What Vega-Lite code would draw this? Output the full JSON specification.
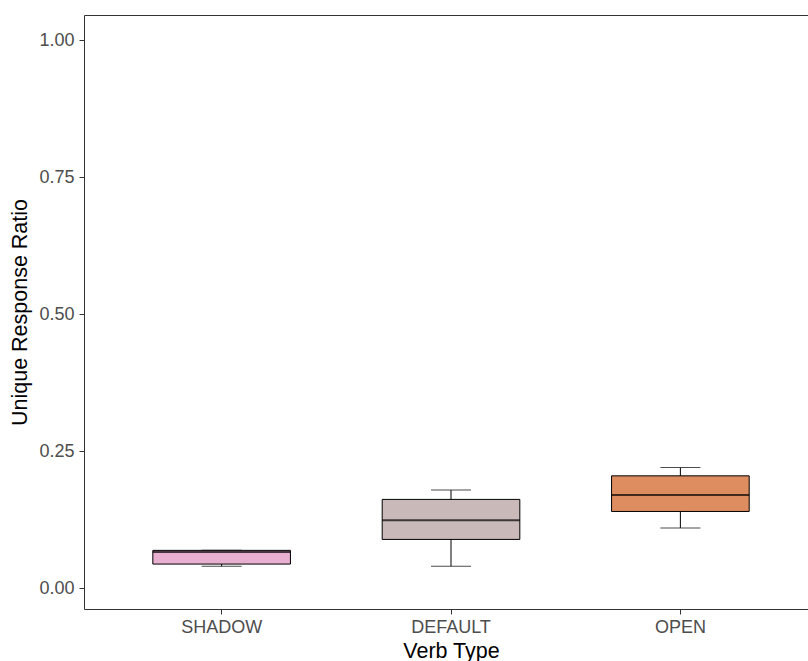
{
  "$schema": "https://vega.github.io/schema/vega-lite/v6.json",
  "autosize": "none",
  "padding": {"left": 84, "top": 15, "right": 0, "bottom": 52},
  "width": 724,
  "height": 594,
  "background": "white",
  "config": {
    "font": "Liberation Sans",
    "view": {"stroke": "#333333", "strokeWidth": 1}
  },
  "data": {
    "values": [
      {"verb": "SHADOW", "lower": 0.040, "q1": 0.044, "median": 0.066, "q3": 0.069, "upper": 0.069},
      {"verb": "DEFAULT", "lower": 0.040, "q1": 0.089, "median": 0.124, "q3": 0.162, "upper": 0.179},
      {"verb": "OPEN", "lower": 0.110, "q1": 0.140, "median": 0.170, "q3": 0.205, "upper": 0.220}
    ]
  },
  "encoding": {
    "x": {
      "field": "verb",
      "type": "nominal",
      "sort": ["SHADOW", "DEFAULT", "OPEN"],
      "scale": {"range": [0, 734], "paddingInner": 0.4, "paddingOuter": 0.3},
      "axis": {
        "title": "Verb Type",
        "labelAngle": 0,
        "labelFontSize": 18,
        "labelColor": "#4d4d4d",
        "labelPadding": 4,
        "tickSize": 5,
        "tickColor": "#333333",
        "domain": false,
        "titleFontSize": 21.5,
        "titleFontWeight": "normal",
        "titleColor": "#000000",
        "titlePadding": 4
      }
    }
  },
  "layer": [
    {
      "mark": {"type": "rule", "color": "#000000", "strokeWidth": 1},
      "encoding": {
        "y": {
          "field": "lower",
          "type": "quantitative",
          "scale": {"domain": [-0.038, 1.046], "nice": false, "zero": false},
          "axis": {
            "title": "Unique Response Ratio",
            "values": [0, 0.25, 0.5, 0.75, 1],
            "format": ".2f",
            "grid": false,
            "domain": false,
            "labelFontSize": 18,
            "labelColor": "#4d4d4d",
            "labelPadding": 5,
            "tickSize": 5,
            "tickColor": "#333333",
            "titleFontSize": 21.5,
            "titleFontWeight": "normal",
            "titleColor": "#000000",
            "titlePadding": 7
          }
        },
        "y2": {"field": "upper"}
      }
    },
    {
      "mark": {"type": "tick", "color": "#000000", "thickness": 1, "size": 40},
      "encoding": {"y": {"field": "lower", "type": "quantitative"}}
    },
    {
      "mark": {"type": "tick", "color": "#000000", "thickness": 1, "size": 40},
      "encoding": {"y": {"field": "upper", "type": "quantitative"}}
    },
    {
      "mark": {"type": "bar", "stroke": "#000000", "strokeWidth": 1},
      "encoding": {
        "y": {"field": "q1", "type": "quantitative"},
        "y2": {"field": "q3"},
        "fill": {
          "field": "verb",
          "type": "nominal",
          "scale": {"domain": ["SHADOW", "DEFAULT", "OPEN"], "range": ["#E9AFD1", "#C9B9B9", "#DE8D60"]},
          "legend": null
        }
      }
    },
    {
      "mark": {"type": "tick", "color": "#000000", "thickness": 2, "size": 137.6},
      "encoding": {"y": {"field": "median", "type": "quantitative"}}
    }
  ]
}
